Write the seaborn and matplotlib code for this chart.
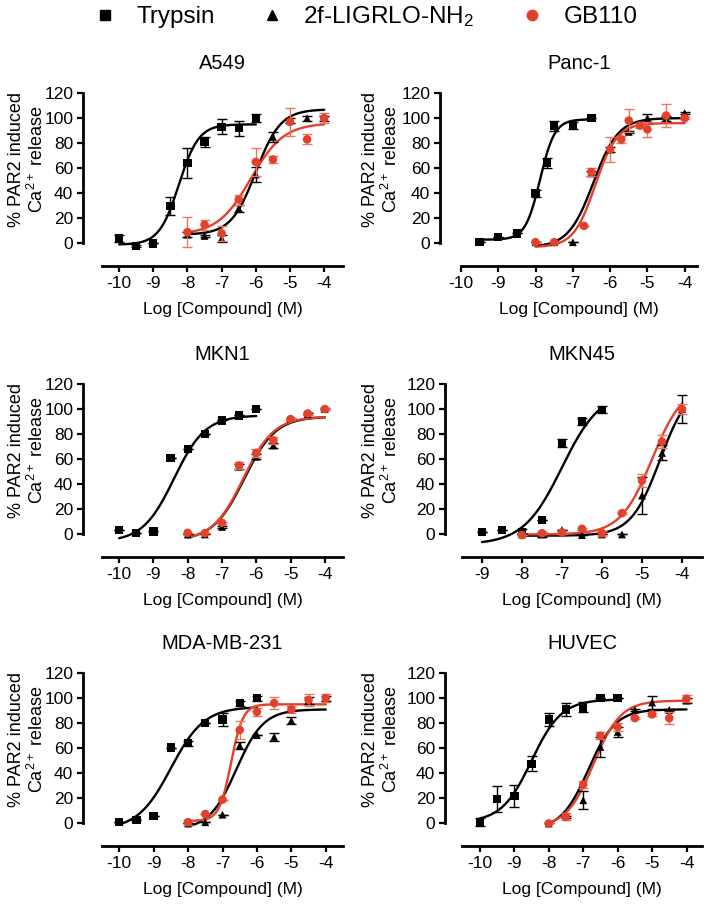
import numpy as np
import pandas as pd
import matplotlib
matplotlib.use("Agg")
import matplotlib.pyplot as plt
from matplotlib.lines import Line2D
import seaborn as sns

# ---- data (log molar, % response, SEM) ----
DOSES = [-8, -7.5, -7, -6.5, -6, -5.5, -5, -4.5, -4]
TRYP_DOSES = [-10, -9.5, -9, -8.5, -8, -7.5, -7, -6.5, -6]

a549_tryp_y = [4, -2, 0, 30, 64, 81, 93, 92, 100]
a549_tryp_e = [3, 1, 0, 7, 12, 4, 6, 6, 3]
a549_2f_y = [7, 6, 4, 28, 55, 85, 98, 100, 100]
a549_2f_e = [2, 1, 3, 3, 6, 4, 2, 2, 2]
a549_gb_y = [9, 15, 8, 35, 65, 67, 97, 83, 100]
a549_gb_e = [12, 4, 6, 4, 11, 3, 11, 4, 4]

panc_tryp_x = [-9.5, -9, -8.5, -8, -7.7, -7.5, -7, -6.5]
panc_tryp_y = [1, 5, 8, 40, 64, 94, 94, 100]
panc_tryp_e = [0, 0, 0, 3, 4, 4, 3, 0]
panc_2f_y = [1, 1, 1, 56, 75, 89, 100, 100, 104]
panc_2f_e = [0, 0, 0, 2, 2, 1, 3, 2, 1]
panc_gb_x = [-8, -7.5, -6.7, -6.5, -6, -5.7, -5.5, -5.2, -5, -4.5, -4]
panc_gb_y = [1, 1, 14, 57, 75, 83, 98, 94, 91, 102, 100]
panc_gb_e = [0, 0, 0, 3, 10, 3, 9, 2, 6, 9, 1]

mkn1_tryp_y = [3.5, 1, 2.4, 61, 68, 80, 91, 95, 100]
mkn1_tryp_e = [0, 0, 0, 0, 0, 0, 0, 0, 0]
mkn1_2f_y = [0, 0, 6, 54, 62, 71, 92, 96, 100]
mkn1_2f_e = [0, 0, 1, 2, 2, 2, 1, 1, 1]
mkn1_gb_y = [1.3, 1, 9.3, 55, 65, 75, 92, 96.5, 100]
mkn1_gb_e = [0, 0, 1, 3, 3, 3, 1, 1, 1]

mkn45_tryp_x = [-9, -8.5, -8, -7.5, -7, -6.5, -6]
mkn45_tryp_y = [2, 3.5, 2, 11.5, 73, 90, 99.5]
mkn45_tryp_e = [0, 0, 2, 0, 3, 3, 3]
mkn45_2f_y = [0, 0, 3.5, -0.5, 0, 0, 31, 65, 100]
mkn45_2f_e = [0, 2, 0, 0, 0, 0, 15, 6, 11]
mkn45_gb_y = [-0.5, 1, 1.6, 4.5, 1, 17, 43, 74, 100]
mkn45_gb_e = [0, 1, 1, 1, 2, 1, 5, 5, 4]

mda_tryp_y = [1, 3, 6, 60.5, 64, 80, 83, 96, 100]
mda_tryp_e = [0, 0, 0, 0, 2, 0, 5, 2, 2]
mda_2f_y = [0, 1, 7, 62, 70.5, 69, 82, 98, 100]
mda_2f_e = [0, 0, 0, 3, 0, 3, 3, 3, 2]
mda_gb_y = [1, 7.5, 19, 74.5, 89, 96, 91, 98.5, 100]
mda_gb_e = [2, 0, 0, 7, 3, 5, 3, 5, 3]

huvec_tryp_y = [1, 19.5, 22, 47.5, 83, 91, 92.5, 100, 100]
huvec_tryp_e = [3, 10, 9, 6, 5, 5, 4, 0, 0]
huvec_2f_y = [0, 5, 18.5, 61, 73, 90.5, 96.5, 90.5, 98]
huvec_2f_e = [0, 1, 7, 8, 4, 1, 5, 1, 2]
huvec_gb_y = [0, 5.4, 31, 70, 77, 84, 87, 84, 99.5]
huvec_gb_e = [0, 3, 3, 3, 3, 1, 1, 5, 3]

# fitted 4-parameter curves: bottom, top, logEC50, hill
a549_fits = [(-1, 95, -8.25, 1.5), (7, 107, -6.0, 1.2), (7, 96, -6.15, 0.9)]
panc_fits = [(3, 99, -7.88, 2.2), (-3, 100, -6.45, 1.3), (-3, 96, -6.4, 1.5)]
mkn1_fits = [(-6, 95, -8.4, 0.95), (-5, 94, -6.35, 0.95), (-5, 94, -6.38, 0.97)]
mkn45_fits = [(-8, 115, -7.0, 0.9), (-1, 120, -4.55, 1.2), (0, 120, -4.75, 1.1)]
mda_fits = [(-5, 93, -8.5, 0.9), (-5, 91, -6.6, 1.1), (2, 95, -6.75, 2.5)]
huvec_fits = [(1, 99, -8.5, 1.0), (-5, 91, -6.85, 1.1), (-3, 98, -6.7, 1.1)]

panels = [
    ("A549", (TRYP_DOSES, a549_tryp_y, a549_tryp_e), (DOSES, a549_2f_y, a549_2f_e),
     (DOSES, a549_gb_y, a549_gb_e), a549_fits),
    ("Panc-1", (panc_tryp_x, panc_tryp_y, panc_tryp_e), (DOSES, panc_2f_y, panc_2f_e),
     (panc_gb_x, panc_gb_y, panc_gb_e), panc_fits),
    ("MKN1", (TRYP_DOSES, mkn1_tryp_y, mkn1_tryp_e), (DOSES, mkn1_2f_y, mkn1_2f_e),
     (DOSES, mkn1_gb_y, mkn1_gb_e), mkn1_fits),
    ("MKN45", (mkn45_tryp_x, mkn45_tryp_y, mkn45_tryp_e), (DOSES, mkn45_2f_y, mkn45_2f_e),
     (DOSES, mkn45_gb_y, mkn45_gb_e), mkn45_fits),
    ("MDA-MB-231", (TRYP_DOSES, mda_tryp_y, mda_tryp_e), (DOSES, mda_2f_y, mda_2f_e),
     (DOSES, mda_gb_y, mda_gb_e), mda_fits),
    ("HUVEC", (TRYP_DOSES, huvec_tryp_y, huvec_tryp_e), (DOSES, huvec_2f_y, huvec_2f_e),
     (DOSES, huvec_gb_y, huvec_gb_e), huvec_fits),
]

LEGEND_LABELS = ["Trypsin", "2f-LIGRLO-NH$_2$", "GB110"]

# layout in pixels: (axes left, axes right, x-axis y, xlim, spine offset)
W, H = 708, 907
layout = [
    (102, 343, 266, (-10.5, -3.45), 19),
    (461, 697, 266, (-10.0, -3.67), 21),
    (102, 343, 557, (-10.5, -3.47), 19),
    (462, 702, 557, (-9.5, -3.5), 17),
    (102, 343, 846, (-10.5, -3.5), 19),
    (462, 702, 846, (-10.52, -3.55), 17),
]
AX_H = 173
RED = "#e2412b"
RED_ERR = "#ec7563"


def four_pl(x, bottom, top, logec50, hill):
    return bottom + (top - bottom) / (1 + 10 ** ((logec50 - x) * hill))


def main():
    sns.set_style("ticks")
    plt.rcParams["font.family"] = ["Liberation Sans", "DejaVu Sans"]
    plt.rcParams["mathtext.fontset"] = "custom"
    plt.rcParams["mathtext.rm"] = "Liberation Sans"
    plt.rcParams["mathtext.it"] = "Liberation Sans:italic"
    plt.rcParams["axes.unicode_minus"] = False
    for key in ("text.color", "axes.labelcolor", "xtick.color", "ytick.color",
                "axes.edgecolor"):
        plt.rcParams[key] = "black"

    fig = plt.figure(figsize=(W / 100, H / 100), dpi=100)

    styles = [("s", "black", "black", 36), ("^", "black", "black", 32), ("o", RED, RED_ERR, 38)]

    for (name, *series, fits), (lx, rx, by, xlim, off) in zip(panels, layout):
        ax = fig.add_axes([lx / W, 1 - by / H, (rx - lx) / W, AX_H / H])

        for (x, y, e), fit, (mk, col, ecol, size) in zip(series, fits, styles):
            xs = np.linspace(min(x), max(x), 200)
            sns.lineplot(x=xs, y=four_pl(xs, *fit), color=col, lw=1.7,
                         estimator=None, ax=ax, zorder=2)
        for i, ((x, y, e), (mk, col, ecol, size)) in enumerate(zip(series, styles)):
            ax.errorbar(x, y, yerr=e, fmt="none", ecolor=ecol, elinewidth=1.0,
                        capsize=3.5, capthick=1.0, zorder=3 + i, clip_on=False)
            df = pd.DataFrame({"x": x, "y": y})
            sns.scatterplot(data=df, x="x", y="y", marker=mk, color=col, s=size,
                            edgecolor="none", linewidth=0, ax=ax, zorder=4 + i,
                            clip_on=False, legend=False)

        ax.set_xlim(*xlim)
        ax.set_ylim(-18, 120)
        ax.set_xticks(range(int(np.ceil(xlim[0])), -3))
        ax.set_yticks(range(0, 121, 20))
        sns.despine(ax=ax)
        ax.spines["left"].set_position(("outward", off * 0.72))
        ax.spines["left"].set_bounds(0, 120)
        for sp in ("left", "bottom"):
            ax.spines[sp].set_linewidth(2.0)
        ax.tick_params(direction="out", length=4, width=1.6, labelsize=12.5, pad=3,
                       color="black", labelcolor="black")
        ax.set_title(name, fontsize=14.5, pad=17)
        ax.set_xlabel("Log [Compound] (M)", fontsize=12.5, labelpad=8)
        ax.set_ylabel("% PAR2 induced\nCa$^{2+}$ release", fontsize=13, linespacing=1.1)
        ax.yaxis.set_label_coords((47 - lx + (0 if lx < 300 else 354)) / (rx - lx), 0.615)

    # legend entries placed one by one at the reference positions
    handles = [
        Line2D([], [], marker="s", ls="none", color="black", markersize=7.5),
        Line2D([], [], marker="^", ls="none", color="black", markersize=7.5),
        Line2D([], [], marker="o", ls="none", color=RED, markersize=7.5),
    ]
    for h, lab, mx in zip(handles, LEGEND_LABELS, (105, 272, 532)):
        fig.legend([h], [lab], loc="center left", bbox_to_anchor=((mx - 12) / W, 1 - 17 / H),
                   frameon=False, fontsize=17.5, handlelength=1.0, handletextpad=0.78,
                   borderpad=0, borderaxespad=0, labelcolor="black")

    fig.savefig("out.png", dpi=100)


if __name__ == "__main__":
    main()
